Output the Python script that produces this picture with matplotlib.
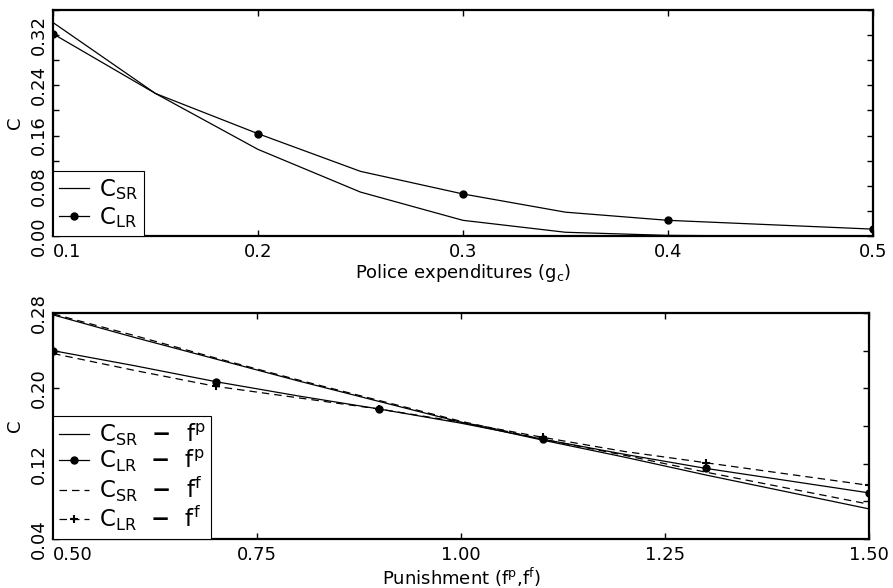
import matplotlib
matplotlib.use("Agg")
import matplotlib.pyplot as plt
import numpy as np

# ---- data ----
g_c = [0.10, 0.15, 0.20, 0.25, 0.30, 0.35, 0.40, 0.45, 0.50]
C_SR_g = [0.340, 0.227, 0.138, 0.070, 0.025, 0.006, 0.001, 0.000, 0.000]
C_LR_g = [0.322, 0.227, 0.163, 0.103, 0.067, 0.038, 0.025, 0.018, 0.011]

f = [0.5, 0.6, 0.7, 0.8, 0.9, 1.0, 1.1, 1.2, 1.3, 1.4, 1.5]
C_SR_fp = [0.278, 0.254, 0.231, 0.208, 0.186, 0.164, 0.145, 0.127, 0.108, 0.090, 0.072]
C_LR_fp = [0.240, 0.224, 0.207, 0.192, 0.178, 0.163, 0.146, 0.130, 0.115, 0.102, 0.089]
C_SR_ff = [0.279, 0.256, 0.232, 0.209, 0.187, 0.165, 0.146, 0.129, 0.111, 0.094, 0.077]
C_LR_ff = [0.237, 0.219, 0.202, 0.190, 0.178, 0.164, 0.148, 0.133, 0.121, 0.109, 0.097]

top_xticks = [0.1, 0.2, 0.3, 0.4, 0.5]
top_xlabels = ["0.1", "0.2", "0.3", "0.4", "0.5"]
top_yticks = [0.00, 0.04, 0.08, 0.12, 0.16, 0.20, 0.24, 0.28, 0.32, 0.36]
top_ylabels = ["0.00", "", "0.08", "", "0.16", "", "0.24", "", "0.32", ""]

bot_xticks = [0.50, 0.75, 1.00, 1.25, 1.50]
bot_xlabels = ["0.50", "0.75", "1.00", "1.25", "1.50"]
bot_yticks = [0.04, 0.08, 0.12, 0.16, 0.20, 0.24, 0.28]
bot_ylabels = ["0.04", "", "0.12", "", "0.20", "", "0.28"]

plt.rcParams['font.family'] = ['DejaVu Sans']
plt.rcParams['mathtext.fontset'] = 'dejavusans'

fig = plt.figure(figsize=(8.93, 5.88), dpi=100)
ax1 = fig.add_axes([0.0594, 0.5986, 0.918, 0.3844])
ax2 = fig.add_axes([0.0594, 0.0833, 0.9137, 0.3844])

lw = 0.9
ax1.plot(g_c, C_SR_g, color='black', lw=lw, label=r'$\mathregular{C_{SR}}$')
ax1.plot(g_c, C_LR_g, color='black', lw=lw, marker='o', ms=5, markevery=2,
         label=r'$\mathregular{C_{LR}}$')

def lab(c, s):
    return r'$\mathregular{C_{%s}\ \ \mathbf{-}\ \ f^{%s}}$' % (c, s)

ax2.plot(f, C_SR_fp, color='black', lw=lw, label=lab('SR', 'p'))
ax2.plot(f, C_LR_fp, color='black', lw=lw, marker='o', ms=5, markevery=2,
         label=lab('LR', 'p'))
ax2.plot(f, C_SR_ff, color='black', lw=lw, ls=(0, (6, 4)), label=lab('SR', 'f'))
ax2.plot(f, C_LR_ff, color='black', lw=lw, ls=(0, (6, 4)), marker='+', ms=6, mew=1.5,
         markevery=2, label=lab('LR', 'f'))

def style(ax, xt, xl, yt, yl, xlim, ylim, xlabel, labelspacing):
    ax.set_xlim(*xlim)
    ax.set_ylim(*ylim)
    ax.set_xticks(xt, labels=xl)
    ax.set_yticks(yt, labels=yl)
    ax.tick_params(direction='in', top=True, right=True, length=4, width=1,
                   labelsize=13, pad=5)
    ax.tick_params(axis='y', labelrotation=90, pad=4)
    for t in ax.get_yticklabels():
        t.set_va('center')
    ax.get_xticklabels()[0].set_ha('left')
    for s in ax.spines.values():
        s.set_linewidth(1.6)
    ax.set_xlabel(xlabel, fontsize=13, labelpad=1)
    ax.set_ylabel('C', fontsize=13, labelpad=4)
    leg = ax.legend(loc='lower left', borderaxespad=0, fancybox=False,
                    framealpha=1, edgecolor='black', fontsize=16.5,
                    handlelength=1.3, handletextpad=0.45, labelspacing=labelspacing,
                    borderpad=0.25)
    leg.get_frame().set_linewidth(0.8)

style(ax1, top_xticks, top_xlabels, top_yticks, top_ylabels, (0.1, 0.5), (0.0, 0.36),
      r'Police expenditures ($\mathregular{g_c}$)', 0.15)
style(ax2, bot_xticks, bot_xlabels, bot_yticks, bot_ylabels, (0.5, 1.5), (0.04, 0.28),
      r'Punishment ($\mathregular{f^p}$,$\mathregular{f^f}$)', 0.0)

fig.savefig('out.png', dpi=100)
